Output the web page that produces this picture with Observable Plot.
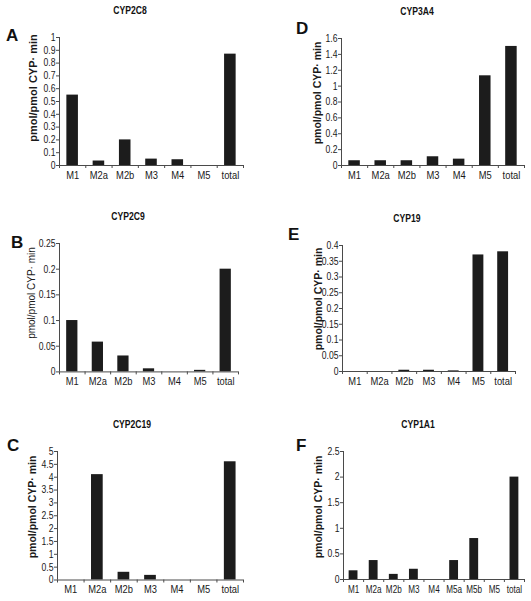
<!DOCTYPE html>
<html><head><meta charset="utf-8">
<script src="https://cdn.jsdelivr.net/npm/d3@7"></script>
<script src="https://cdn.jsdelivr.net/npm/@observablehq/plot@0.6"></script>
<style>
body{margin:0;background:#fff;}
#root{position:relative;width:531px;height:601px;overflow:hidden;font-family:"Liberation Sans",Arial,sans-serif;}
.title{position:absolute;font-weight:bold;font-size:10px;transform:translate(-50%,-50%) scaleX(0.86);white-space:nowrap;color:#111;line-height:1}
.letter{position:absolute;font-weight:bold;font-size:17px;transform:translate(0,-50%);color:#111;line-height:1}
.ylab{position:absolute;transform:translate(-50%,-50%) rotate(-90deg);white-space:nowrap;color:#1a1a1a;line-height:1}
.plot{position:absolute}
</style></head><body><div id="root"></div>
<script>
// ---- data ----
const catsStd = ["M1","M2a","M2b","M3","M4","M5","total"];
const catsF   = ["M1","M2a","M2b","M3","M4","M5a","M5b","M5","total"];
const valsA = [0.55, 0.035, 0.2, 0.05, 0.045, 0, 0.87];     // CYP2C8
const valsB = [0.1, 0.058, 0.031, 0.006, 0, 0.003, 0.2];    // CYP2C9
const valsC = [0, 4.1, 0.3, 0.18, 0, 0, 4.6];               // CYP2C19
const valsD = [0.06, 0.06, 0.06, 0.11, 0.08, 1.13, 1.5];    // CYP3A4
const valsE = [0, 0, 0.004, 0.004, 0.002, 0.37, 0.38];      // CYP19
const valsF = [0.17, 0.37, 0.1, 0.2, 0, 0.37, 0.8, 0, 2.0]; // CYP1A1
const ticksA = [0,0.1,0.2,0.3,0.4,0.5,0.6,0.7,0.8,0.9,1];
const ticksB = [0,0.05,0.1,0.15,0.2,0.25];
const ticksC = [0,0.5,1,1.5,2,2.5,3,3.5,4,4.5,5];
const ticksD = [0,0.2,0.4,0.6,0.8,1,1.2,1.4,1.6];
const ticksE = [0,0.05,0.1,0.15,0.2,0.25,0.3,0.35,0.4];
const ticksF = [0,0.5,1,1.5,2,2.5];
const titles  = ["CYP2C8","CYP2C9","CYP2C19","CYP3A4","CYP19","CYP1A1"];
const letters = ["A","B","C","D","E","F"];
const yLabel = "pmol/pmol CYP· min";

// ---- layout (pixel geometry) ----
const layout = [
  {colX:0,   colW:265, fx1:59,  fx2:243, fy1:37,    fy2:165,   tx:130, ty:10.7, lx:6,   ly:35,  yx:33,  yy:88,  fs:11,   bold:true,  sq:0.85},
  {colX:0,   colW:265, fx1:59,  fx2:238, fy1:243.3, fy2:371.7, tx:128, ty:216.5,lx:11,  ly:242, yx:32,  yy:293, fs:10,   bold:false, sq:0.85},
  {colX:0,   colW:265, fx1:57,  fx2:243, fy1:451,   fy2:579.5, tx:132, ty:425,  lx:7,   ly:445, yx:32,  yy:507, fs:10.5, bold:true,  sq:0.85},
  {colX:265, colW:266, fx1:341, fx2:524, fy1:37.5,  fy2:164.5, tx:417, ty:11.5, lx:296, ly:28,  yx:317, yy:93,  fs:10.5, bold:true,  sq:0.85},
  {colX:265, colW:266, fx1:342, fx2:515, fy1:245,   fy2:371,   tx:407, ty:219,  lx:288, ly:234, yx:318, yy:298.5,fs:10.5, bold:true,  sq:0.85},
  {colX:265, colW:266, fx1:343, fx2:524, fy1:451,   fy2:579,   tx:418, ty:425,  lx:296, ly:445, yx:318, yy:507, fs:10.5, bold:true,  sq:0.74}
];
const panels = [
  {cats:catsStd, vals:valsA, ticks:ticksA},
  {cats:catsStd, vals:valsB, ticks:ticksB},
  {cats:catsStd, vals:valsC, ticks:ticksC},
  {cats:catsStd, vals:valsD, ticks:ticksD},
  {cats:catsStd, vals:valsE, ticks:ticksE},
  {cats:catsF,   vals:valsF, ticks:ticksF}
];

const root = document.getElementById("root");
const fmt = d => String(+d.toFixed(3));
const axisColor = "#4a4a4a";
const textColor = "#1a1a1a";

function squeeze(svg, sel, f) {
  svg.querySelectorAll(sel).forEach(t => {
    const w = t.getComputedTextLength();
    if (w > 0) {
      t.setAttribute("textLength", (w * f).toFixed(2));
      t.setAttribute("lengthAdjust", "spacingAndGlyphs");
    }
  });
}

panels.forEach((p, k) => {
  const L = layout[k];
  const n = p.cats.length;
  const mT = 12, mB = 26;
  const mL = L.fx1 - L.colX, mR = L.colX + L.colW - L.fx2;
  const H = (L.fy2 - L.fy1) + mT + mB;
  const data = p.cats.map((c, i) => ({c, i, v: p.vals[i]}));
  const ymax = p.ticks[p.ticks.length - 1];
  const chart = Plot.plot({
    width: L.colW, height: H,
    marginLeft: mL, marginRight: mR, marginTop: mT, marginBottom: mB,
    x: {domain: [0, n], axis: null},
    y: {domain: [0, ymax], axis: null},
    style: {background: "transparent", fontFamily: "'Liberation Sans', Arial, sans-serif", overflow: "visible", color: textColor},
    marks: [
      Plot.rectY(data, {x1: d => d.i + 0.28, x2: d => d.i + 0.72, y1: 0, y2: "v", fill: "#1c1c1c"}),
      Plot.ruleY([0], {stroke: axisColor}),
      Plot.ruleX([0], {stroke: axisColor}),
      Plot.axisY({ticks: p.ticks, tickSize: 3, tickPadding: 1, tickFormat: fmt, fontSize: 10.5, label: null, stroke: axisColor, fill: textColor}),
      Plot.axisX({ticks: d3.range(n + 1), tickSize: 3, tickFormat: () => "", label: null, stroke: axisColor}),
      Plot.axisX({ticks: p.cats.map((c, i) => i + 0.5), tickSize: 0, tickPadding: 5.5,
        tickFormat: d => p.cats[Math.floor(d)], fontSize: 11, label: null, fill: textColor})
    ]
  });
  const wrap = document.createElement("div");
  wrap.className = "plot";
  wrap.style.left = L.colX + "px";
  wrap.style.top = (L.fy1 - mT) + "px";
  wrap.appendChild(chart);
  root.appendChild(wrap);
  squeeze(chart, 'g[aria-label="y-axis tick label"] text', 0.82);
  squeeze(chart, 'g[aria-label="x-axis tick label"] text', L.sq);

  const t = document.createElement("div");
  t.className = "title"; t.textContent = titles[k];
  t.style.left = L.tx + "px"; t.style.top = L.ty + "px";
  root.appendChild(t);
  const l = document.createElement("div");
  l.className = "letter"; l.textContent = letters[k];
  l.style.left = L.lx + "px"; l.style.top = L.ly + "px";
  root.appendChild(l);
  const y = document.createElement("div");
  y.className = "ylab"; y.textContent = yLabel;
  y.style.left = L.yx + "px"; y.style.top = L.yy + "px";
  y.style.fontSize = L.fs + "px";
  y.style.fontWeight = L.bold ? "bold" : "normal";
  root.appendChild(y);
});
</script>
</body></html>
